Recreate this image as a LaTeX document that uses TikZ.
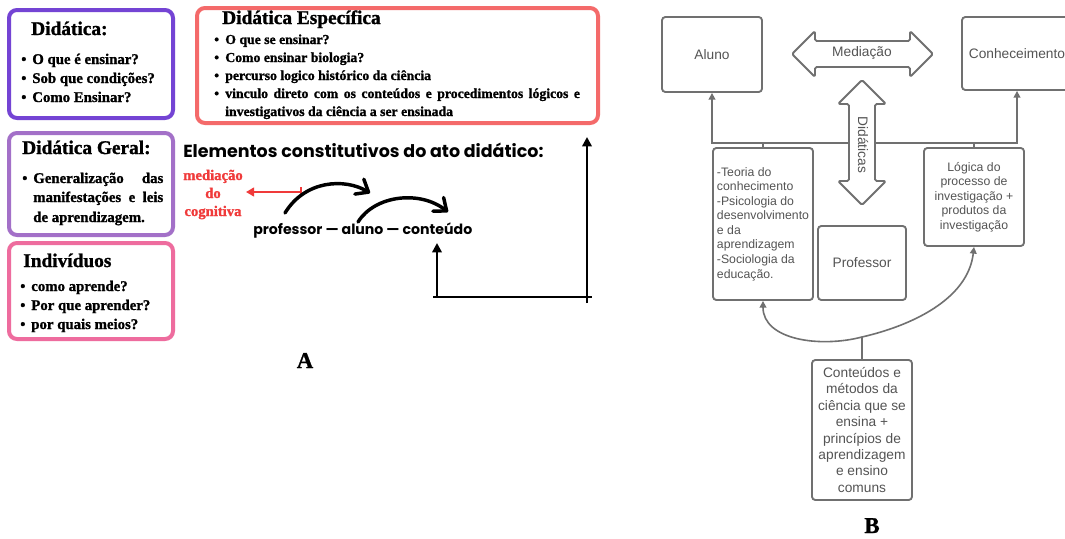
\documentclass[tikz,border=0pt]{standalone}
\usepackage{fontspec}
\setmainfont{Liberation Serif}[BoldFeatures={FakeBold=1.2}]
\newfontfamily\lsans{Liberation Sans}
\newfontfamily\popp{Poppins}
\usetikzlibrary{arrows.meta}

\definecolor{violA}{RGB}{116,68,212}
\definecolor{violB}{RGB}{163,112,200}
\definecolor{pinkC}{RGB}{238,108,158}
\definecolor{salmon}{RGB}{244,106,106}
\definecolor{redtxt}{RGB}{240,58,58}
\definecolor{gline}{RGB}{112,112,112}
\definecolor{gtext}{RGB}{84,84,84}

\newcommand\bul{\makebox[8.3pt][l]{•}}

\tikzset{
  card/.style={draw, line width=3pt, rounded corners=6pt, inner sep=0pt, minimum width=123pt},
  ttl/.style={anchor=base west, inner sep=0pt, font=\bfseries\fontsize{14.5}{16}\selectfont},
  btext/.style={anchor=base west, inner sep=0pt, font=\bfseries\fontsize{10.3}{12}\selectfont},
  ltext/.style={anchor=base west, inner sep=0pt, font=\bfseries\fontsize{11.1}{13}\selectfont},
  gbox/.style={draw=gline, line width=1.4pt, rounded corners=2.5pt, fill=white, inner sep=2pt,
    text=gtext, font=\lsans\fontsize{9.2}{10.9}\selectfont},
  conn/.style={draw=gline, line width=1.2pt},
  gtip/.style={-{Triangle[length=5pt,width=5pt]}},
  bigarrow/.style={draw=gline, fill=white, line width=1.4pt, rounded corners=1.2pt, line join=round},
  thick curve/.style={line width=2.6pt, line cap=round, -{Straight Barb[length=8pt,width=13pt,round]}},
  axisline/.style={line width=2.2pt},
  label letter/.style={font=\bfseries\fontsize{17}{20}\selectfont, inner sep=0pt, anchor=base}
}

\begin{document}
\begin{tikzpicture}[x=0.75pt, y=-0.75pt]
\useasboundingbox (0,0) rectangle (1065,539);
\fill[white] (0,0) rectangle (1065,539);

% ---------------- Part A: cards ----------------
\node[card, draw=violA, minimum height=81pt] (didat) at (91,64) {};
\node[ttl] (didatT) at (31,35) {Didática:};
\node[ltext] (d1) at (21,64)  {\bul O que é ensinar?};
\node[ltext] (d2) at (21,83)  {\bul Sob que condições?};
\node[ltext] (d3) at (21,102) {\bul Como Ensinar?};

\node[card, draw=salmon, minimum width=300.75pt, minimum height=86.25pt] (espec) at (397.5,65.5) {};
\node[ttl] (especT) at (222,24) {Didática Específica};
\node[btext] (e1) at (214,44)  {\bul O que se ensinar?};
\node[btext] (e2) at (214,62)  {\bul Como ensinar biologia?};
\node[btext] (e3) at (214,80)  {\bul percurso logico histórico da ciência};
\node[btext] (e4) at (214,98)  {\bul \makebox[266pt][s]{vinculo direto com os conteúdos e procedimentos lógicos e}};
\node[btext] (e5) at (225,116) {investigativos da ciência a ser ensinada};

\node[card, draw=violB, minimum height=76.5pt] (geral) at (91,184) {};
\node[ttl] (geralT) at (22,154) {Didática Geral:};
\node[ltext] (g1) at (22,183) {\bul \makebox[97.5pt][s]{Generalização das}};
\node[ltext] (g2) at (33,202) {\makebox[97.5pt][s]{manifestações e leis}};
\node[ltext] (g3) at (33,222) {de aprendizagem.};

\node[card, draw=pinkC, minimum height=72pt] (indiv) at (91,291) {};
\node[ttl] (indivT) at (23,267) {Indivíduos};
\node[ltext] (i1) at (20,291) {\bul como aprende?};
\node[ltext] (i2) at (20,310) {\bul Por que aprender?};
\node[ltext] (i3) at (20,329) {\bul por quais meios?};

% ---------------- Part A: elements of the didactic act ----------------
\node[anchor=base west, inner sep=0pt, font=\popp\bfseries\fontsize{13.1}{15}\selectfont]
  (elem) at (183,157) {Elementos constitutivos do ato didático:};

% multi-line node: its base anchor is the baseline of the last line
\node[anchor=base, inner sep=0pt, align=center, text=redtxt,
      font=\bfseries\fontsize{11}{13.5}\selectfont] (medc) at (213,216)
  {mediação\\do\\cognitiva};

\coordinate (mtail) at (302,192);
\coordinate (mtip) at (246,192);
\draw[redtxt, line width=1.5pt, {Bar[width=7pt]}-{Triangle[length=6pt,width=6.5pt]}] (mtail) -- (mtip);

\node[anchor=base west, inner sep=0pt, font=\popp\bfseries\fontsize{10.6}{13}\selectfont]
  (pac) at (253,234) {professor — aluno — conteúdo};

\coordinate (c1s) at (285,213);
\coordinate (c1e) at (370,193);
\coordinate (c2s) at (358,222);
\coordinate (c2e) at (448,212);
\draw[thick curve] (c1s) .. controls (305,180) and (345,178) .. (c1e);
\draw[thick curve] (c2s) .. controls (375,195) and (420,190) .. (c2e);

\coordinate (ax0) at (437,297);
\coordinate (ax1) at (437,243);
\coordinate (hx0) at (433,297);
\coordinate (hx1) at (592,297);
\coordinate (vx0) at (587,303);
\coordinate (vx1) at (587,137);
\draw[axisline, -{Triangle[length=7pt,width=7pt]}] (ax0) -- (ax1);
\draw[axisline] (hx0) -- (hx1);
\draw[axisline, -{Triangle[length=7pt,width=7pt]}] (vx0) -- (vx1);

\node[label letter] (labA) at (305,368) {A};

% ---------------- Part B ----------------
\node[gbox, minimum width=75pt, minimum height=56.25pt, font=\lsans\fontsize{10.3}{12}\selectfont] (aluno) at (712,54.5) {Aluno};
\node[gbox, minimum width=82.5pt, minimum height=54.75pt, font=\lsans\fontsize{10.3}{12}\selectfont] (conhec) at (1017,53.5) {Conheceimento};
\node[gbox, minimum width=75pt, minimum height=114pt, align=left] (teoria) at (763,224)
  {-Teoria do\\conhecimento\\-Psicologia do\\desenvolvimento\\e da\\aprendizagem\\-Sociologia da\\educação.};
\node[gbox, minimum width=66pt, minimum height=55.5pt, font=\lsans\fontsize{10.3}{12}\selectfont] (prof) at (862,263) {Professor};
\node[gbox, minimum width=75pt, minimum height=73.5pt, align=center] (logica) at (974,197)
  {Lógica do\\processo de\\investigação +\\produtos da\\investigação};
\node[gbox, minimum width=75pt, minimum height=105pt, align=center,
      font=\lsans\fontsize{10.3}{12.3}\selectfont] (conteudos) at (862,430)
  {Conteúdos e\\métodos da\\ciência que se\\ensina +\\princípios de\\aprendizagem\\e ensino\\comuns};

% links from the lower boxes up to Aluno and Conhecimento
\coordinate (hy) at (0,143);
\draw[conn] (aluno.south |- hy) -- (conhec.south |- hy);
\draw[conn, gtip] (teoria.north) -- (teoria.north |- hy) -| (aluno.south);
\draw[conn, gtip] (logica.north) -- (logica.north |- hy) -| (conhec.south);

% Mediação double arrow
\draw[bigarrow] (792,54) -- (815,31) -- (815,41) -- (910,41) -- (910,31) -- (933,54)
  -- (910,77) -- (910,67) -- (815,67) -- (815,77) -- cycle;
\node[text=gtext, font=\lsans\fontsize{10.3}{12}\selectfont, inner sep=0pt] (med) at (862,53) {Mediação};

% Didáticas double arrow
\draw[bigarrow] (862,80) -- (886,104) -- (875,104) -- (875,181) -- (886,181) -- (862,205)
  -- (838,181) -- (849,181) -- (849,104) -- (838,104) -- cycle;
\node[text=gtext, font=\lsans\fontsize{10.3}{12}\selectfont, inner sep=0pt, rotate=-90] (did) at (863,145) {Didáticas};

% curved links from Conteúdos
\coordinate (J) at (862,337);
\draw[conn] (conteudos.north) -- (J);
\draw[conn, gtip] (J) .. controls (820,348) and (763,340) .. (teoria.south);
\draw[conn, gtip] (J) .. controls (910,326) and (968,300) .. (logica.south);

\node[label letter] (labB) at (872,533) {B};
\end{tikzpicture}
\end{document}
